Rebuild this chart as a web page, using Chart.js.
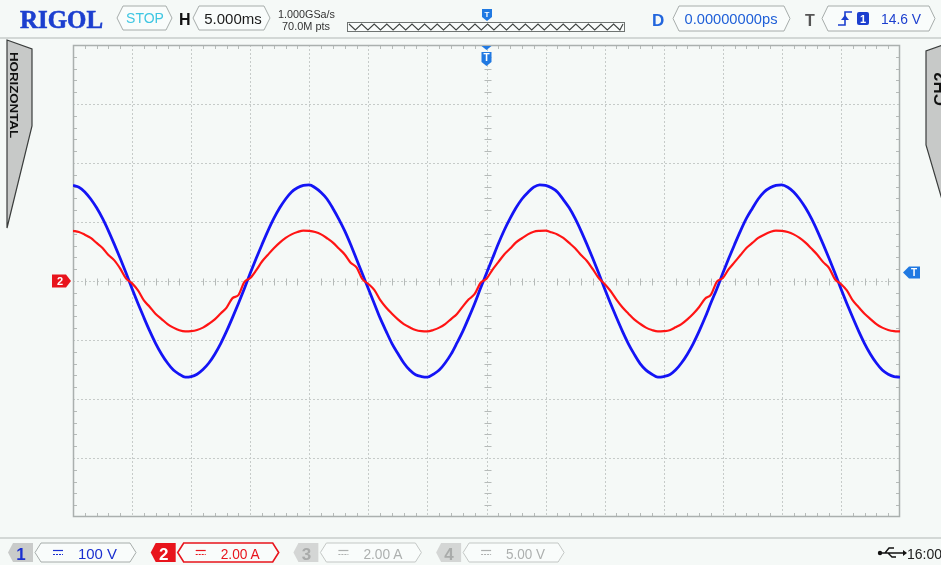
<!DOCTYPE html>
<html>
<head>
<meta charset="utf-8">
<script src="https://cdn.jsdelivr.net/npm/chart.js@4.4.1/dist/chart.umd.min.js"></script>
<style>
  html, body { margin: 0; padding: 0; background: #f5f9f7; }
  #wrap { position: relative; width: 941px; height: 565px; overflow: hidden; background: #f5f9f7; }
  #scope, #ui { position: absolute; left: 0; top: 0; }
  #ui text { font-family: "Liberation Sans", Arial, sans-serif; }
</style>
</head>
<body>
<div id="wrap">
  <canvas id="scope" width="941" height="565"></canvas>
  <svg id="ui" width="941" height="565" xmlns="http://www.w3.org/2000/svg"></svg>
</div>
<script>
// ---- acquisition: sample times (ms, 5 ms/div, trigger at 0) ----
const timeMs = [
  -35,-34.5,-34,-33.5,-33,-32.5,-32,-31.5,-31,-30.5,-30,-29.5,-29,-28.5,-28,-27.5,-27,-26.5,-26,-25.5,
  -25,-24.5,-24,-23.5,-23,-22.5,-22,-21.5,-21,-20.5,-20,-19.5,-19,-18.5,-18,-17.5,-17,-16.5,-16,-15.5,
  -15,-14.5,-14,-13.5,-13,-12.5,-12,-11.5,-11,-10.5,-10,-9.5,-9,-8.5,-8,-7.5,-7,-6.5,-6,-5.5,
  -5,-4.5,-4,-3.5,-3,-2.5,-2,-1.5,-1,-0.5,0,0.5,1,1.5,2,2.5,3,3.5,4,4.5,
  5,5.5,6,6.5,7,7.5,8,8.5,9,9.5,10,10.5,11,11.5,12,12.5,13,13.5,14,14.5,
  15,15.5,16,16.5,17,17.5,18,18.5,19,19.5,20,20.5,21,21.5,22,22.5,23,23.5,24,24.5,
  25,25.5,26,26.5,27,27.5,28,28.5,29,29.5,30,30.5,31,31.5,32,32.5,33,33.5,34,34.5,
  35
];

// CH1 voltage (V), 100 V/div
const ch1VoltageV = [
  162,159,151,139,124,106,85,62,38,13,-13,-38,-62,-85,-106,-124,-139,-151,-158,-163,
  -162,-158,-150,-139,-124,-106,-85,-62,-38,-13,13,38,62,85,106,124,139,151,158,162,
  163,158,150,139,123,105,85,62,37,12,-13,-38,-63,-85,-106,-123,-139,-151,-159,-162,
  -163,-158,-151,-139,-124,-105,-85,-62,-38,-12,13,38,63,86,106,124,139,150,159,163,
  162,158,151,138,124,106,85,62,38,13,-13,-38,-62,-85,-106,-124,-140,-151,-158,-163,
  -162,-159,-151,-139,-124,-106,-85,-62,-37,-13,13,38,62,85,106,123,139,151,158,162,
  163,159,151,139,124,106,85,62,38,13,-13,-38,-62,-85,-106,-124,-139,-151,-158,-162,
  -163
];

// CH2 current (A), 2.00 A/div
const ch2CurrentA = [
  1.70,1.66,1.57,1.46,1.29,1.12,0.88,0.70,0.42,0.08,-0.08,-0.32,-0.66,-0.88,-1.12,-1.29,-1.46,-1.58,-1.67,-1.71,
  -1.70,-1.66,-1.58,-1.45,-1.30,-1.10,-0.90,-0.58,-0.48,-0.04,0.10,0.36,0.66,0.89,1.11,1.30,1.46,1.58,1.66,1.71,
  1.70,1.66,1.58,1.45,1.30,1.10,0.90,0.62,0.46,0.06,-0.10,-0.30,-0.64,-0.90,-1.11,-1.30,-1.46,-1.57,-1.66,-1.70,
  -1.71,-1.66,-1.58,-1.46,-1.29,-1.12,-0.86,-0.62,-0.44,-0.06,0.08,0.38,0.64,0.90,1.10,1.31,1.45,1.58,1.67,1.70,
  1.71,1.65,1.58,1.46,1.29,1.11,0.88,0.68,0.40,0.10,-0.10,-0.34,-0.63,-0.89,-1.10,-1.30,-1.45,-1.58,-1.66,-1.71,
  -1.70,-1.67,-1.57,-1.46,-1.30,-1.11,-0.88,-0.60,-0.46,-0.02,0.10,0.40,0.64,0.88,1.12,1.29,1.46,1.57,1.66,1.71,
  1.70,1.66,1.58,1.46,1.30,1.10,0.89,0.64,0.44,0.06,-0.10,-0.32,-0.66,-0.89,-1.11,-1.29,-1.46,-1.58,-1.66,-1.70,
  -1.71
];

// graticule: major divisions (14 x 8) in scale units
const divisionTimesMs = [-35,-30,-25,-20,-15,-10,-5,0,5,10,15,20,25,30,35];
const divisionVolts = [-400,-300,-200,-100,0,100,200,300,400];

// trigger / channel settings
const triggerTimeMs = 0;
const triggerLevelV = 14.6;
const ch2OffsetA = 0;

// status bar texts
const channelNumbers = ['1', '2', '3', '4'];
const channelScales = ['100 V', '2.00 A', '2.00 A', '5.00 V'];
const timebaseText = '5.000ms';
const sampleRateText = '1.000GSa/s';
const memDepthText = '70.0M pts';
const delayText = '0.00000000ps';
const triggerLevelText = '14.6 V';
const clockText = '16:00';

// ---------- graticule drawn from the scales ----------
const scopeGrid = {
  id: 'scopeGrid',
  beforeDatasetsDraw(chart) {
    const { ctx, chartArea: a, scales } = chart;
    const x = scales.x, y = scales.y;
    const cx = Math.round(x.getPixelForValue(0)) + 0.5;
    const cy = Math.round(y.getPixelForValue(0)) + 0.5;
    ctx.save();
    ctx.lineWidth = 1;
    ctx.strokeStyle = '#c6cbc9';
    ctx.setLineDash([2, 2]);
    divisionTimesMs.slice(1, -1).forEach(t => {
      const px = Math.round(x.getPixelForValue(t)) + 0.5;
      ctx.beginPath(); ctx.moveTo(px, a.top); ctx.lineTo(px, a.bottom); ctx.stroke();
    });
    divisionVolts.slice(1, -1).forEach(v => {
      const py = Math.round(y.getPixelForValue(v)) + 0.5;
      ctx.beginPath(); ctx.moveTo(a.left, py); ctx.lineTo(a.right, py); ctx.stroke();
    });
    ctx.setLineDash([]);
    // minor ticks: 5 per division, on the frame and across the centre lines
    ctx.strokeStyle = '#b6bbb9';
    for (let d = 0; d < divisionTimesMs.length - 1; d++) {
      const t0 = divisionTimesMs[d], step = (divisionTimesMs[d + 1] - t0) / 5;
      for (let k = 1; k < 5; k++) {
        const px = Math.round(x.getPixelForValue(t0 + k * step)) + 0.5;
        ctx.beginPath();
        ctx.moveTo(px, a.top); ctx.lineTo(px, a.top + 4);
        ctx.moveTo(px, a.bottom - 4); ctx.lineTo(px, a.bottom);
        ctx.moveTo(px, cy - 3); ctx.lineTo(px, cy + 4);
        ctx.stroke();
      }
    }
    for (let d = 0; d < divisionVolts.length - 1; d++) {
      const v0 = divisionVolts[d], step = (divisionVolts[d + 1] - v0) / 5;
      for (let k = 1; k < 5; k++) {
        const py = Math.round(y.getPixelForValue(v0 + k * step)) + 0.5;
        ctx.beginPath();
        ctx.moveTo(a.left, py); ctx.lineTo(a.left + 4, py);
        ctx.moveTo(a.right - 4, py); ctx.lineTo(a.right, py);
        ctx.moveTo(cx - 3, py); ctx.lineTo(cx + 4, py);
        ctx.stroke();
      }
    }
    // frame
    ctx.strokeStyle = '#aab0ae';
    ctx.lineWidth = 1.5;
    ctx.strokeRect(Math.round(a.left) + 0.5, Math.round(a.top) + 0.5,
                   Math.round(a.right - a.left) - 1, Math.round(a.bottom - a.top) - 1);
    ctx.restore();
  }
};

// ---------- trigger and channel markers ----------
const scopeMarkers = {
  id: 'scopeMarkers',
  afterDraw(chart) {
    const { ctx, chartArea: a, scales } = chart;
    const blue = '#2079e2', red = '#e8141c';
    ctx.save();
    ctx.font = 'bold 10px "Liberation Sans", Arial, sans-serif';
    ctx.textAlign = 'center';
    ctx.textBaseline = 'middle';

    // trigger position (top)
    const tx = scales.x.getPixelForValue(triggerTimeMs);
    ctx.fillStyle = blue;
    ctx.beginPath();
    ctx.moveTo(tx - 5, a.top + 1); ctx.lineTo(tx + 5, a.top + 1); ctx.lineTo(tx, a.top + 5);
    ctx.closePath(); ctx.fill();
    ctx.beginPath();
    ctx.moveTo(tx - 5, a.top + 7); ctx.lineTo(tx + 5, a.top + 7);
    ctx.lineTo(tx + 5, a.top + 17); ctx.lineTo(tx, a.top + 21); ctx.lineTo(tx - 5, a.top + 17);
    ctx.closePath(); ctx.fill();
    ctx.fillStyle = '#ffffff';
    ctx.fillText('T', tx, a.top + 13);

    // trigger level (right edge)
    const ty = scales.y.getPixelForValue(triggerLevelV);
    ctx.fillStyle = blue;
    ctx.beginPath();
    ctx.moveTo(a.right + 3, ty); ctx.lineTo(a.right + 9, ty - 6); ctx.lineTo(a.right + 20, ty - 6);
    ctx.lineTo(a.right + 20, ty + 6); ctx.lineTo(a.right + 9, ty + 6);
    ctx.closePath(); ctx.fill();
    ctx.fillStyle = '#ffffff';
    ctx.fillText('T', a.right + 14, ty + 0.5);

    // CH2 offset (left edge)
    const oy = scales.y2.getPixelForValue(ch2OffsetA);
    ctx.fillStyle = red;
    ctx.beginPath();
    ctx.moveTo(a.left - 21, oy - 6.5); ctx.lineTo(a.left - 7, oy - 6.5); ctx.lineTo(a.left - 2, oy);
    ctx.lineTo(a.left - 7, oy + 6.5); ctx.lineTo(a.left - 21, oy + 6.5);
    ctx.closePath(); ctx.fill();
    ctx.fillStyle = '#ffffff';
    ctx.font = 'bold 11px "Liberation Sans", Arial, sans-serif';
    ctx.fillText(channelNumbers[1], a.left - 13, oy + 0.5);
    ctx.restore();
  }
};

new Chart(document.getElementById('scope'), {
  type: 'line',
  data: {
    datasets: [
      {
        label: 'CH2',
        data: timeMs.map((t, i) => ({ x: t, y: ch2CurrentA[i] })),
        yAxisID: 'y2',
        borderColor: '#ff1414',
        borderWidth: 2.2,
        pointRadius: 0,
        cubicInterpolationMode: 'monotone'
      },
      {
        label: 'CH1',
        data: timeMs.map((t, i) => ({ x: t, y: ch1VoltageV[i] })),
        yAxisID: 'y',
        borderColor: '#1414f5',
        borderWidth: 2.8,
        pointRadius: 0,
        cubicInterpolationMode: 'monotone'
      }
    ]
  },
  options: {
    responsive: false,
    animation: false,
    devicePixelRatio: 1,
    events: [],
    layout: { padding: { left: 73, top: 45, right: 41, bottom: 48 } },
    plugins: { legend: { display: false }, tooltip: { enabled: false } },
    scales: {
      x: { type: 'linear', min: divisionTimesMs[0], max: divisionTimesMs[divisionTimesMs.length - 1], display: false },
      y: { min: divisionVolts[0], max: divisionVolts[divisionVolts.length - 1], display: false },
      y2: { min: -8, max: 8, display: false, position: 'right' }
    }
  },
  plugins: [scopeGrid, scopeMarkers]
});

// ---------- instrument status bars and side tabs ----------
const svg = document.getElementById('ui');
const NS = 'http://www.w3.org/2000/svg';
function el(tag, attrs, text) {
  const e = document.createElementNS(NS, tag);
  for (const k in attrs) e.setAttribute(k, attrs[k]);
  if (text !== undefined) e.textContent = text;
  svg.appendChild(e);
  return e;
}
function chevronBox(x1, x2, y1, y2, stroke, fill, sw) {
  const ym = (y1 + y2) / 2;
  el('polygon', {
    points: `${x1},${ym} ${x1 + 6},${y1} ${x2 - 6},${y1} ${x2},${ym} ${x2 - 6},${y2} ${x1 + 6},${y2}`,
    fill: fill || '#f9fcfb', stroke: stroke || '#a6acaa', 'stroke-width': sw || 1
  });
}

// separators
el('line', { x1: 0, y1: 38, x2: 941, y2: 38, stroke: '#d3d8d6', 'stroke-width': 2 });
el('line', { x1: 0, y1: 538, x2: 941, y2: 538, stroke: '#d3d8d6', 'stroke-width': 2 });

// top bar
el('text', { x: 20, y: 28, 'font-weight': 'bold', 'font-size': 25,
             fill: '#1c3fcf', stroke: '#1c3fcf', 'stroke-width': 0.6,
             textLength: 83, lengthAdjust: 'spacingAndGlyphs',
             style: 'font-family:"Liberation Serif",serif' }, 'RIGOL');
chevronBox(117, 172, 6, 30);
el('text', { x: 145, y: 23, 'font-size': 14, fill: '#3ec6e2', 'text-anchor': 'middle' }, 'STOP');
el('text', { x: 179, y: 25, 'font-size': 16, 'font-weight': 'bold', fill: '#111' }, 'H');
chevronBox(193, 270, 6, 30);
el('text', { x: 233, y: 24, 'font-size': 15, fill: '#1a1a1a', 'text-anchor': 'middle' }, timebaseText);
el('text', { x: 278, y: 18, 'font-size': 10, fill: '#333', textLength: 57, lengthAdjust: 'spacingAndGlyphs' }, sampleRateText);
el('text', { x: 282, y: 30, 'font-size': 10, fill: '#333', textLength: 48, lengthAdjust: 'spacingAndGlyphs' }, memDepthText);

// memory overview bar with waveform thumbnail
el('rect', { x: 347.5, y: 22.5, width: 277, height: 9, fill: '#f9fcfb', stroke: '#6f7472', 'stroke-width': 1 });
let zz = 'M349,24';
for (let px = 349, up = false; px < 623; px += 6.3, up = !up) zz += ` L${Math.min(px + 6.3, 623).toFixed(1)},${up ? 24 : 30}`;
el('path', { d: zz, fill: 'none', stroke: '#3f4442', 'stroke-width': 1.1 });
el('path', { d: 'M482,9 H492 V17 L487,21 L482,17 Z', fill: '#2079e2' });
el('text', { x: 487, y: 17, 'font-size': 8, 'font-weight': 'bold', fill: '#fff', 'text-anchor': 'middle' }, 'T');

el('text', { x: 652, y: 26, 'font-size': 17, 'font-weight': 'bold', fill: '#2266dd' }, 'D');
chevronBox(673, 790, 6, 31);
el('text', { x: 731, y: 24, 'font-size': 14, fill: '#2060d8', 'text-anchor': 'middle', textLength: 93, lengthAdjust: 'spacingAndGlyphs' }, delayText);
el('text', { x: 805, y: 26, 'font-size': 16, 'font-weight': 'bold', fill: '#555' }, 'T');
chevronBox(822, 935, 6, 31);
el('path', { d: 'M838,25 H845 V12 H852', fill: 'none', stroke: '#1c3fcf', 'stroke-width': 1.6 });
el('path', { d: 'M841,20 L845,15 L849,20 Z', fill: '#1c3fcf' });
el('rect', { x: 857, y: 12, width: 12, height: 13, rx: 2, fill: '#1c3fcf' });
el('text', { x: 863, y: 23, 'font-size': 11, 'font-weight': 'bold', fill: '#fff', 'text-anchor': 'middle' }, channelNumbers[0]);
el('text', { x: 881, y: 24, 'font-size': 14, fill: '#1c3fcf', textLength: 40, lengthAdjust: 'spacingAndGlyphs' }, triggerLevelText);

// side tabs
el('polygon', { points: '7,40 32,49 32,126 7,228', fill: '#c7c9c8', stroke: '#3a3d3c', 'stroke-width': 1.2 });
el('text', { transform: 'translate(10,52) rotate(90)', 'font-size': 11.5, 'font-weight': 'bold', fill: '#111',
             textLength: 86, lengthAdjust: 'spacingAndGlyphs' }, 'HORIZONTAL');
el('polygon', { points: '943,45 926,51 926,145 943,203', fill: '#c7c9c8', stroke: '#3a3d3c', 'stroke-width': 1.2 });
el('text', { transform: 'translate(946,106) rotate(-90)', 'font-size': 17, 'font-weight': 'bold', fill: '#111' },
   'CH' + channelNumbers[1]);

// bottom channel bar
const tabStyles = [
  { tab: '#c9cbca', num: '#1a2fd0', stroke: '#a6acaa', text: '#1a2fd0', sw: 1 },
  { tab: '#e8141c', num: '#ffffff', stroke: '#e8141c', text: '#e8141c', sw: 1.6 },
  { tab: '#d4d6d5', num: '#a9abaa', stroke: '#c3c7c5', text: '#adb0af', sw: 1 },
  { tab: '#d4d6d5', num: '#a9abaa', stroke: '#c3c7c5', text: '#adb0af', sw: 1 }
];
channelNumbers.forEach((n, i) => {
  const x0 = 8 + i * 142.7, s = tabStyles[i];
  el('polygon', { points: `${x0},552.5 ${x0 + 5},543 ${x0 + 25},543 ${x0 + 25},562 ${x0 + 5},562`, fill: s.tab });
  el('text', { x: x0 + 13, y: 560, 'font-size': 17, 'font-weight': 'bold', fill: s.num, 'text-anchor': 'middle' }, n);
  chevronBox(x0 + 27, x0 + 128, 543, 562, s.stroke, '#f9fcfb', s.sw);
  el('line', { x1: x0 + 45, y1: 550.5, x2: x0 + 55, y2: 550.5, stroke: s.text, 'stroke-width': 1.2 });
  el('line', { x1: x0 + 45, y1: 554.5, x2: x0 + 55, y2: 554.5, stroke: s.text, 'stroke-width': 1.2, 'stroke-dasharray': '2,1' });
  el('text', { x: x0 + 70, y: 559, 'font-size': 15, fill: s.text, textLength: 39, lengthAdjust: 'spacingAndGlyphs' }, channelScales[i]);
});

// USB symbol and clock
el('circle', { cx: 880, cy: 553, r: 2.2, fill: '#111' });
el('path', { d: 'M880,553 H903 M885,553 L889,548 H894 M888,553 L892,557 H896', fill: 'none', stroke: '#111', 'stroke-width': 1.4 });
el('path', { d: 'M903,550 L907,553 L903,556 Z', fill: '#111' });
el('text', { x: 907, y: 559, 'font-size': 14, fill: '#222' }, clockText);
</script>
</body>
</html>
